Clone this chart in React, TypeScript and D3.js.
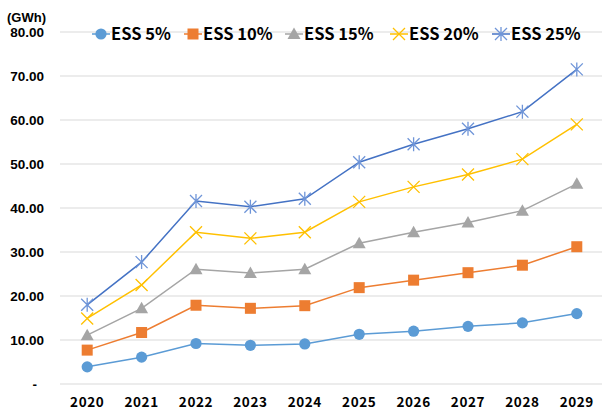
import React from "react";
import * as d3 from "d3";

const years = ["2020", "2021", "2022", "2023", "2024", "2025", "2026", "2027", "2028", "2029"];
const ess5 = [3.9, 6.1, 9.2, 8.8, 9.1, 11.3, 12.0, 13.1, 13.9, 16.0];
const ess10 = [7.7, 11.7, 17.9, 17.2, 17.8, 21.9, 23.6, 25.3, 27.0, 31.2];
const ess15 = [11.1, 17.2, 26.1, 25.2, 26.1, 32.0, 34.5, 36.7, 39.4, 45.5];
const ess20 = [14.9, 22.5, 34.5, 33.1, 34.5, 41.4, 44.8, 47.6, 51.1, 59.0];
const ess25 = [18.0, 27.7, 41.6, 40.3, 42.1, 50.4, 54.5, 58.0, 61.9, 71.5];
const seriesNames = ["ESS 5%", "ESS 10%", "ESS 15%", "ESS 20%", "ESS 25%"];
const yTicks = [0, 10, 20, 30, 40, 50, 60, 70, 80];

const colors = ["#5B9BD5", "#ED7D31", "#A5A5A5", "#FFC000", "#4472C4"];
const markerColors = ["#5B9BD5", "#ED7D31", "#A5A5A5", "#FFC000", "#6F95D8"];
const shapes = ["circle", "square", "triangle", "x", "star"];

function Marker({ shape, x, y, color }: { shape: string; x: number; y: number; color: string }) {
  if (shape === "circle") return <circle cx={x} cy={y} r={5.6} fill={color} />;
  if (shape === "square") return <rect x={x - 5.5} y={y - 5.5} width={11} height={11} fill={color} />;
  if (shape === "triangle")
    return <path d={`M${x},${y - 6.5}L${x + 6.5},${y + 5}L${x - 6.5},${y + 5}Z`} fill={color} />;
  if (shape === "x")
    return (
      <path d={`M${x - 6},${y - 6}L${x + 6},${y + 6}M${x - 6},${y + 6}L${x + 6},${y - 6}`} stroke={color} strokeWidth={1.3} />
    );
  return (
    <path
      d={`M${x - 6},${y - 6}L${x + 6},${y + 6}M${x - 6},${y + 6}L${x + 6},${y - 6}M${x},${y - 7}L${x},${y + 7}`}
      stroke={color}
      strokeWidth={1.3}
    />
  );
}

export default function App() {
  const data = [ess5, ess10, ess15, ess20, ess25];
  const x = d3.scaleBand<string>().domain(years).range([60, 604]);
  const y = d3.scaleLinear().domain([0, 80]).range([384, 32]);
  const cx = (yr: string) => (x(yr) as number) + x.bandwidth() / 2;
  const line = d3
    .line<number>()
    .x((_, i) => cx(years[i]))
    .y((d) => y(d));
  const font = "'Noto Sans CJK KR', 'Noto Sans', sans-serif";
  const axisFont = "'Liberation Sans', Arial, sans-serif";
  const legendX = [101, 193, 294, 399, 501];

  return (
    <svg width={602} height={412} style={{ position: "absolute", left: 0, top: 0 }} fontFamily={font}>
      <rect width={602} height={412} fill="#fff" />
      {yTicks.map((t) => (
        <line key={t} x1={60} x2={604} y1={y(t)} y2={y(t)} stroke="#D9D9D9" strokeWidth={1} />
      ))}
      {yTicks.map((t) => (
        <text key={t} x={t === 0 ? 37 : 44} y={y(t)} dy="0.35em" textAnchor="end" fontSize={13.5} fontWeight="bold" fill="#000" fontFamily={axisFont}>
          {t === 0 ? "-" : t.toFixed(2)}
        </text>
      ))}
      <text x={7} y={17} dy="0.35em" fontSize={13} fontWeight="bold" fill="#000" fontFamily={axisFont}>
        (GWh)
      </text>
      {years.map((yr) => (
        <text key={yr} x={cx(yr)} y={402} dy="0.35em" textAnchor="middle" fontSize={13.5} fontWeight="bold" letterSpacing={0.6} fill="#000">
          {yr}
        </text>
      ))}
      {data.map((vals, si) => (
        <g key={si}>
          <path d={line(vals) as string} fill="none" stroke={colors[si]} strokeWidth={1.5} />
          {vals.map((v, i) => (
            <Marker key={i} shape={shapes[si]} x={cx(years[i])} y={y(v)} color={markerColors[si]} />
          ))}
        </g>
      ))}
      {seriesNames.map((n, i) => (
        <g key={n}>
          <line x1={legendX[i] - 9} x2={legendX[i] + 9} y1={34} y2={34} stroke={colors[i]} strokeWidth={1.5} />
          <Marker shape={shapes[i]} x={legendX[i]} y={34} color={markerColors[i]} />
          <text x={legendX[i] + 10} y={34} dy="0.35em" fontSize={16.5} fontWeight="bold" fill="#000">
            {n}
          </text>
        </g>
      ))}
    </svg>
  );
}
